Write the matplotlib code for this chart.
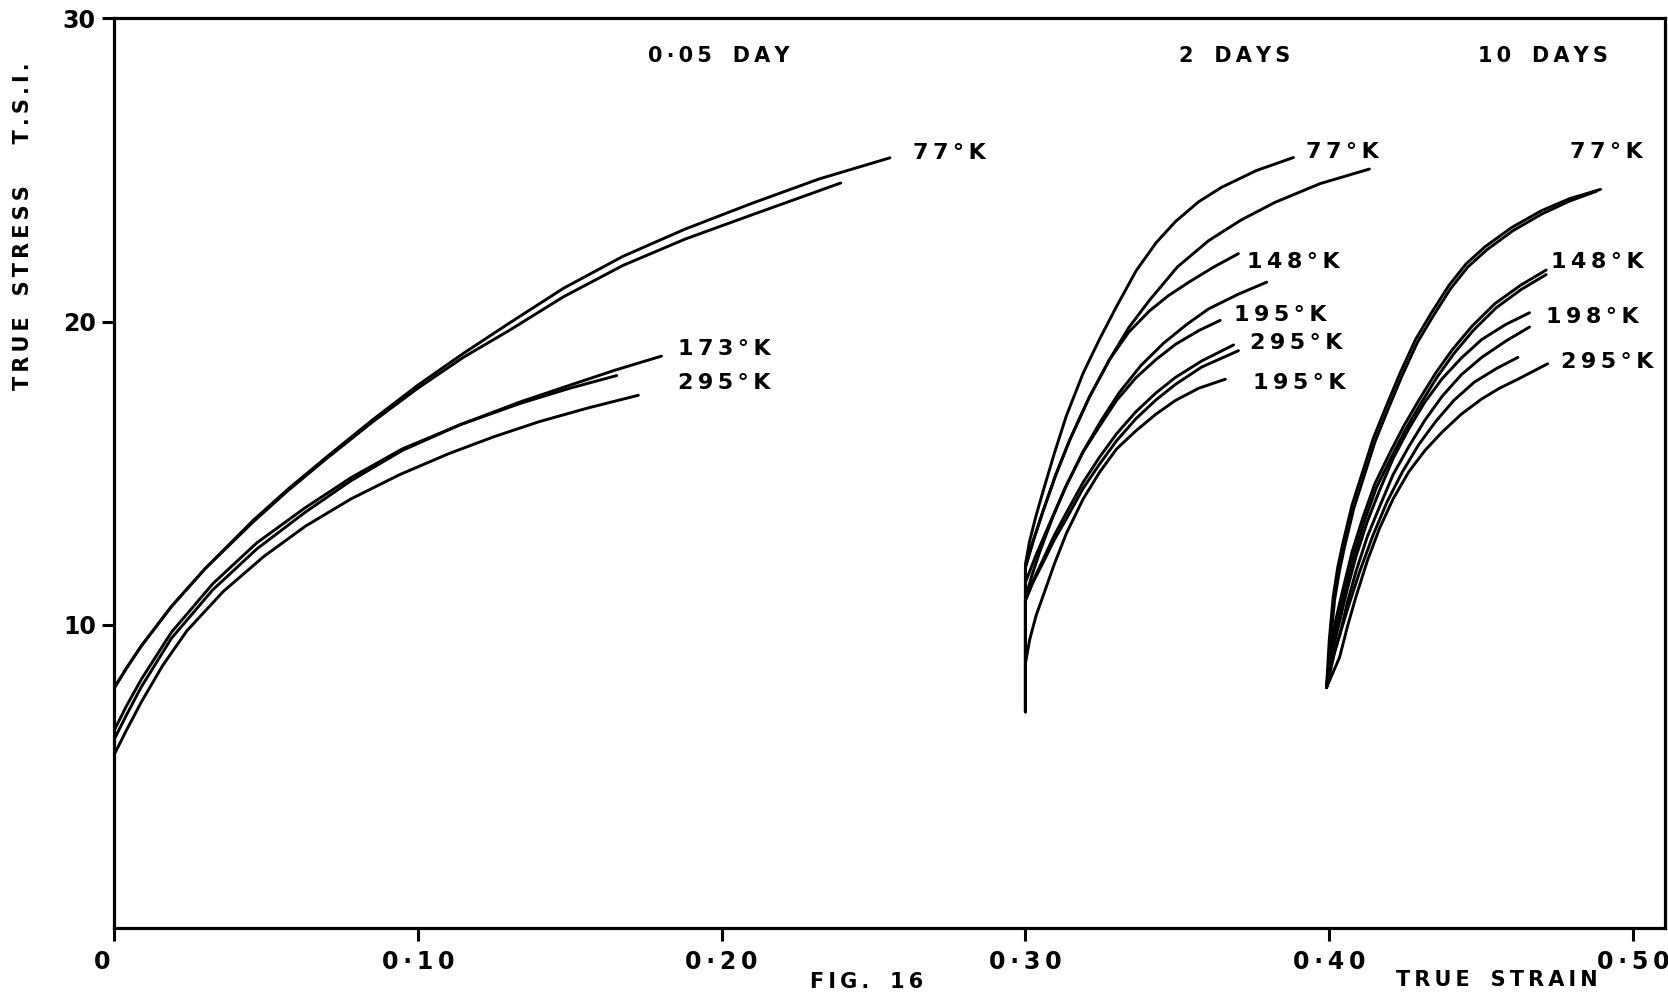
import matplotlib
matplotlib.use("Agg")
import matplotlib.pyplot as plt
from matplotlib.transforms import ScaledTranslation

# ---------------- data ----------------
x_ticks = [0.0, 0.10, 0.20, 0.30, 0.40, 0.50]
x_tick_labels = ["0", "0·10", "0·20", "0·30", "0·40", "0·50"]
y_ticks = [10, 20, 30]
y_tick_labels = ["10", "20", "30"]

# ---- 0.05 day ----
g1_77a_x = [0.0, 0.004, 0.009, 0.0189, 0.030, 0.0459, 0.057, 0.0696, 0.085, 0.100,
            0.115, 0.1303, 0.148, 0.1675, 0.188, 0.210, 0.232, 0.2554]
g1_77a_y = [7.9, 8.55, 9.3, 10.6, 11.85, 13.45, 14.45, 15.5, 16.75, 17.9,
            18.95, 19.96, 21.1, 22.15, 23.05, 23.9, 24.7, 25.4]
g1_77b_x = [0.0, 0.004, 0.009, 0.0189, 0.030, 0.0459, 0.057, 0.0696, 0.085, 0.100,
            0.115, 0.1303, 0.148, 0.1675, 0.188, 0.210, 0.2392]
g1_77b_y = [7.9, 8.55, 9.3, 10.6, 11.85, 13.4, 14.4, 15.45, 16.68, 17.8,
            18.82, 19.72, 20.82, 21.85, 22.72, 23.52, 24.57]
g1_173_x = [0.0, 0.004, 0.009, 0.0189, 0.0325, 0.047, 0.0628, 0.078, 0.0949, 0.114,
            0.1337, 0.150, 0.165, 0.1802]
g1_173_y = [6.5, 7.3, 8.2, 9.75, 11.35, 12.7, 13.85, 14.85, 15.8, 16.6,
            17.35, 17.9, 18.4, 18.86]
g1_mid_x = [0.0, 0.004, 0.009, 0.0189, 0.0325, 0.047, 0.0628, 0.078, 0.0949, 0.114,
            0.1337, 0.150, 0.1655]
g1_mid_y = [6.2, 7.0, 7.95, 9.55, 11.15, 12.5, 13.7, 14.75, 15.75, 16.6,
            17.3, 17.8, 18.22]
g1_295_x = [0.0, 0.004, 0.009, 0.016, 0.024, 0.036, 0.0493, 0.063, 0.078, 0.094,
            0.1101, 0.125, 0.140, 0.156, 0.1726]
g1_295_y = [5.7, 6.5, 7.45, 8.65, 9.8, 11.1, 12.25, 13.25, 14.15, 14.95,
            15.64, 16.2, 16.7, 17.15, 17.57]

# ---- 2 days ----
g2_77a_x = [0.300, 0.300, 0.3014, 0.3035, 0.3058, 0.3095, 0.3135, 0.319, 0.3244, 0.330,
            0.3364, 0.343, 0.3494, 0.357, 0.3646, 0.376, 0.3882]
g2_77a_y = [7.13, 12.0, 12.77, 13.6, 14.4, 15.65, 16.9, 18.3, 19.42, 20.5,
            21.67, 22.6, 23.3, 23.95, 24.43, 24.98, 25.41]
g2_77b_x = [0.300, 0.300, 0.3025, 0.3058, 0.310, 0.3146, 0.321, 0.3277, 0.334, 0.3408,
            0.350, 0.3603, 0.371, 0.3821, 0.397, 0.4132]
g2_77b_y = [7.13, 11.9, 12.75, 13.75, 14.95, 16.1, 17.5, 18.75, 19.8, 20.7,
            21.8, 22.67, 23.35, 23.93, 24.55, 25.03]
g2_148_x = [0.300, 0.300, 0.3025, 0.3058, 0.310, 0.3146, 0.321, 0.3277, 0.334, 0.3408,
            0.347, 0.3538, 0.362, 0.3701]
g2_148_y = [7.13, 11.9, 12.75, 13.75, 14.95, 16.1, 17.5, 18.75, 19.65, 20.35,
            20.85, 21.3, 21.8, 22.24]
g2_mid_x = [0.300, 0.300, 0.3035, 0.308, 0.313, 0.3189, 0.325, 0.3309, 0.338, 0.3455,
            0.353, 0.3603, 0.370, 0.3794]
g2_mid_y = [7.13, 11.4, 12.3, 13.35, 14.5, 15.7, 16.75, 17.66, 18.55, 19.29,
            19.9, 20.42, 20.9, 21.3]
g2_195a_x = [0.300, 0.300, 0.3022, 0.3047, 0.309, 0.3135, 0.319, 0.3244, 0.330, 0.3364,
             0.343, 0.3494, 0.357, 0.3641]
g2_195a_y = [7.13, 10.9, 11.65, 12.4, 13.55, 14.6, 15.7, 16.55, 17.4, 18.15,
             18.75, 19.25, 19.7, 20.04]
g2_295a_x = [0.300, 0.300, 0.3025, 0.3058, 0.3095, 0.3135, 0.319, 0.3244, 0.330, 0.3364,
             0.343, 0.3494, 0.358, 0.3685]
g2_295a_y = [7.13, 10.8, 11.45, 12.15, 12.95, 13.7, 14.7, 15.53, 16.3, 17.03,
             17.65, 18.16, 18.7, 19.23]
g2_295b_x = [0.300, 0.300, 0.3025, 0.3058, 0.3095, 0.3135, 0.319, 0.3244, 0.330, 0.3364,
             0.343, 0.3494, 0.358, 0.3701]
g2_295b_y = [7.13, 10.8, 11.4, 12.05, 12.8, 13.5, 14.5, 15.3, 16.07, 16.8,
             17.42, 17.93, 18.5, 19.04]
g2_195b_x = [0.300, 0.300, 0.3014, 0.3035, 0.3058, 0.3095, 0.3135, 0.319, 0.3244, 0.330,
             0.3364, 0.343, 0.3494, 0.357, 0.3658]
g2_195b_y = [7.13, 8.73, 9.51, 10.3, 10.95, 12.0, 13.02, 14.15, 15.03, 15.8,
             16.4, 16.95, 17.4, 17.8, 18.1]

# ---- 10 days ----
g3_77a_x = [0.3991, 0.4000, 0.4013, 0.4028, 0.4045, 0.4075, 0.4110, 0.4145, 0.4186, 0.4233,
            0.4284, 0.4337, 0.4393, 0.445, 0.4513, 0.460, 0.4697, 0.479, 0.4893]
g3_77a_y = [7.93, 9.5, 10.93, 11.9, 12.7, 13.95, 15.05, 16.15, 17.17, 18.3,
            19.41, 20.3, 21.18, 21.9, 22.47, 23.1, 23.65, 24.05, 24.36]
g3_77b_x = [0.3991, 0.4004, 0.4018, 0.4034, 0.4051, 0.4081, 0.4116, 0.4151, 0.4192, 0.4239,
            0.4290, 0.4343, 0.4399, 0.4456, 0.4519, 0.4605, 0.4700, 0.4790, 0.4880]
g3_77b_y = [7.93, 9.45, 10.85, 11.8, 12.6, 13.85, 14.95, 16.05, 17.07, 18.2,
            19.31, 20.2, 21.08, 21.8, 22.37, 23.0, 23.55, 23.97, 24.3]
g3_148a_x = [0.3991, 0.4002, 0.402, 0.4045, 0.4075, 0.4110, 0.415, 0.4198, 0.4245, 0.4295,
             0.435, 0.4404, 0.447, 0.4545, 0.463, 0.4714]
g3_148a_y = [7.93, 8.93, 10.1, 11.17, 12.4, 13.52, 14.65, 15.64, 16.55, 17.41,
             18.3, 19.06, 19.85, 20.59, 21.2, 21.7]
g3_148b_x = [0.3991, 0.4005, 0.4025, 0.4050, 0.4080, 0.4115, 0.4155, 0.4203, 0.4250, 0.4300,
             0.4355, 0.4409, 0.4475, 0.4550, 0.4632, 0.4714]
g3_148b_y = [7.93, 8.85, 9.98, 11.05, 12.27, 13.4, 14.52, 15.5, 16.42, 17.28,
             18.17, 18.93, 19.72, 20.46, 21.06, 21.55]
g3_198_x = [0.3991, 0.401, 0.4034, 0.406, 0.4088, 0.4125, 0.4165, 0.421, 0.4262, 0.4315,
            0.4371, 0.4435, 0.4502, 0.458, 0.4659]
g3_198_y = [7.93, 9.1, 10.11, 11.2, 12.25, 13.4, 14.42, 15.48, 16.47, 17.35,
            18.11, 18.8, 19.41, 19.9, 20.29]
g3_c_x = [0.3991, 0.401, 0.4034, 0.406, 0.4088, 0.4125, 0.4165, 0.421, 0.4262, 0.4315,
          0.4371, 0.4435, 0.4502, 0.458, 0.4659]
g3_c_y = [7.93, 8.85, 9.64, 10.75, 11.76, 12.9, 13.88, 14.95, 15.88, 16.75,
          17.53, 18.25, 18.82, 19.35, 19.82]
g3_d_x = [0.3991, 0.402, 0.4066, 0.410, 0.4143, 0.419, 0.4241, 0.4295, 0.435, 0.441,
          0.4477, 0.455, 0.4621]
g3_d_y = [7.93, 9.2, 10.7, 11.75, 12.93, 14.05, 15.05, 15.95, 16.7, 17.4,
          18.0, 18.45, 18.82]
g3_295_x = [0.3991, 0.4034, 0.406, 0.4088, 0.4125, 0.4165, 0.421, 0.4262, 0.4315, 0.4371,
            0.4435, 0.4502, 0.456, 0.4621, 0.4719]
g3_295_y = [7.93, 8.93, 9.95, 10.93, 12.1, 13.17, 14.15, 15.05, 15.75, 16.35,
            16.95, 17.45, 17.8, 18.1, 18.61]

curves = [
    (g1_77a_x, g1_77a_y), (g1_77b_x, g1_77b_y), (g1_173_x, g1_173_y),
    (g1_mid_x, g1_mid_y), (g1_295_x, g1_295_y),
    (g2_77a_x, g2_77a_y), (g2_77b_x, g2_77b_y), (g2_148_x, g2_148_y),
    (g2_mid_x, g2_mid_y), (g2_195a_x, g2_195a_y), (g2_295a_x, g2_295a_y),
    (g2_295b_x, g2_295b_y), (g2_195b_x, g2_195b_y),
    (g3_77a_x, g3_77a_y), (g3_77b_x, g3_77b_y), (g3_148a_x, g3_148a_y),
    (g3_148b_x, g3_148b_y), (g3_198_x, g3_198_y), (g3_c_x, g3_c_y),
    (g3_d_x, g3_d_y), (g3_295_x, g3_295_y),
]

temp_labels = ["77°K", "173°K", "295°K",
               "77°K", "148°K", "195°K", "295°K", "195°K",
               "77°K", "148°K", "198°K", "295°K"]
temp_label_x = [0.263, 0.1855, 0.1855,
                0.3925, 0.3729, 0.3687, 0.3739, 0.3750,
                0.4793, 0.4730, 0.4712, 0.4762]
temp_label_y = [25.55, 19.09, 17.97,
                25.58, 21.97, 20.21, 19.30, 17.97,
                25.58, 21.97, 20.15, 18.67]

day_labels = ["0·05 DAY", "2 DAYS", "10 DAYS"]
day_label_x = [0.1989, 0.3687, 0.4702]
day_label_y = [28.77, 28.77, 28.77]


def spaced(s, gap="\u2009", word="\u2003"):
    """Hand-lettered look: thin space between letters, wide gap between words."""
    out = []
    for i, ch in enumerate(s):
        if ch == " ":
            out.append(word)
            continue
        out.append(ch)
        if i < len(s) - 1 and s[i + 1] != " ":
            out.append(gap)
    return "".join(out)


# ---------------- figure ----------------
plt.rcParams['font.family'] = ['DejaVu Sans']
fig = plt.figure(figsize=(16.68, 9.92), dpi=100)
ax = fig.add_axes([0.0683, 0.0645, 0.9299, 0.917])

for cx, cy in curves:
    ax.plot(cx, cy, color="black", lw=2.1, solid_capstyle="round",
            solid_joinstyle="round")

for t, tx, ty in zip(temp_labels, temp_label_x, temp_label_y):
    ax.text(tx, ty, spaced(t), fontsize=16, fontweight="bold",
            ha="left", va="center", color="black")

for t, tx, ty in zip(day_labels, day_label_x, day_label_y):
    ax.text(tx, ty, spaced(t), fontsize=15, fontweight="bold",
            ha="center", va="center", color="black")

ax.set_xlim(0, 0.5105)
ax.set_ylim(0, 30)
ax.set_xticks(x_ticks)
ax.set_xticklabels([spaced(t) for t in x_tick_labels], fontsize=17,
                   fontweight="bold")
ax.set_yticks(y_ticks)
ax.set_yticklabels(y_tick_labels, fontsize=17, fontweight="bold")
ax.tick_params(axis="both", direction="out", length=9, width=2.2)
ax.tick_params(axis="x", pad=7)
ax.tick_params(axis="y", pad=4)
for s in ax.spines.values():
    s.set_linewidth(2.3)

# the origin "0" sits a little left of the axis in the original
first = ax.get_xticklabels()[0]
first.set_transform(first.get_transform() +
                    ScaledTranslation(-12 / 100, 0, fig.dpi_scale_trans))

ax.text(-0.0587, 0.772, spaced("TRUE STRESS") + "\u2003\u2003" + spaced("T.S.I."),
        transform=ax.transAxes, rotation=90, ha="center", va="center",
        fontsize=15, fontweight="bold")
ax.text(0.8917, -0.057, spaced("TRUE STRAIN"), transform=ax.transAxes,
        ha="center", va="center", fontsize=15, fontweight="bold")
ax.text(0.4855, -0.059, spaced("FIG. 16"), transform=ax.transAxes,
        ha="center", va="center", fontsize=15, fontweight="bold")

fig.savefig("out.png", dpi=100, facecolor="white")
